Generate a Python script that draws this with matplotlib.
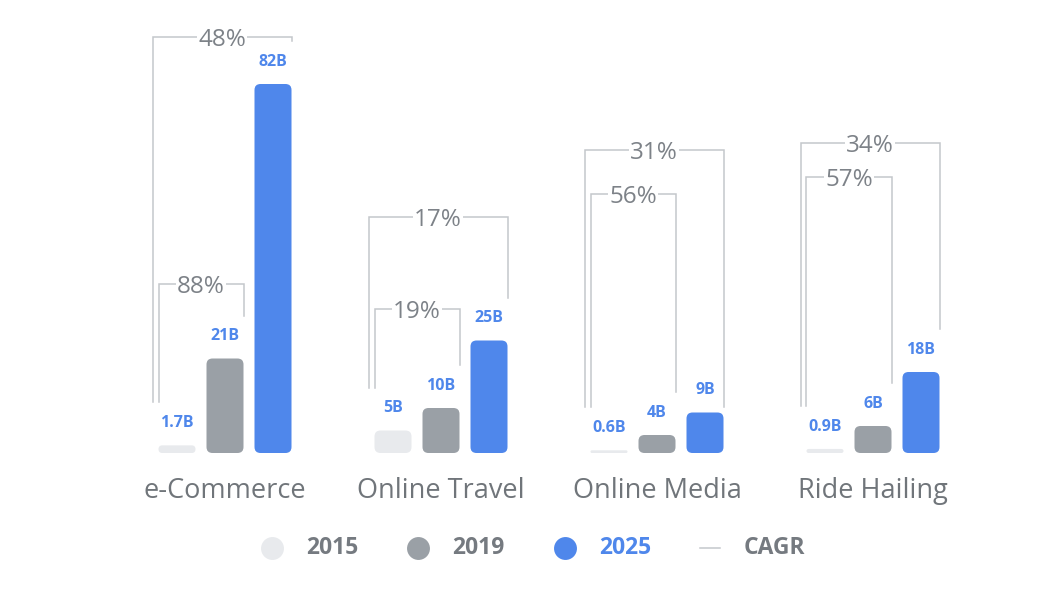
import numpy as np
import matplotlib.pyplot as plt
from matplotlib.patches import FancyBboxPatch

# ---- data ----
categories = ["e-Commerce", "Online Travel", "Online Media", "Ride Hailing"]
years = ["2015", "2019", "2025"]
v2015 = [1.7, 5, 0.6, 0.9]
v2019 = [21, 10, 4, 6]
v2025 = [82, 25, 9, 18]
labels2015 = ["1.7B", "5B", "0.6B", "0.9B"]
labels2019 = ["21B", "10B", "4B", "6B"]
labels2025 = ["82B", "25B", "9B", "18B"]
cagr_2015_2019 = ["88%", "19%", "56%", "57%"]
cagr_2015_2025 = ["48%", "17%", "31%", "34%"]

# ---- style / layout ----
plt.rcParams['font.family'] = ['Open Sans', 'DejaVu Sans']
c2015, c2019, c2025 = "#e8eaed", "#9aa0a6", "#4f87eb"
line_c = "#c4c7cb"
pct_c = "#7d8288"
cat_c = "#70757a"
leg_c = "#757a80"

W, H = 1038, 604
BASE = 453          # baseline pixel row
K = 4.5             # pixels per billion
GX0, GDX = 225, 216 # group centre px and spacing
bar_w = 37 / GDX
off = 48 / GDX
rad = 6             # corner radius px

# bracket top levels (pixel rows) - layout only
outer_top_px = [37, 217, 150, 143]
inner_top_px = [284, 309, 194, 177]
outer_right_to_base = [False, False, True, False]

fig = plt.figure(figsize=(W / 100, H / 100), dpi=100)
ax = fig.add_axes([0, 0, 1, 1])
ax.set_xlim(-GX0 / GDX, (W - GX0) / GDX)
ax.set_ylim(-(H - BASE) / K, BASE / K)
ax.axis("off")


def yv(py):
    # pixel row -> data value
    return (BASE - py) / K


def rbar(x, h, color):
    hpx = h * K
    r = min(rad, hpx / 2)
    p = FancyBboxPatch((x - bar_w / 2, 0), bar_w, h,
                       boxstyle=f"round,pad=0,rounding_size={r / GDX}",
                       mutation_aspect=GDX / K, fc=color, ec="none")
    ax.add_patch(p)


def bracket(xl, xr, top, yl, yr, txt):
    ax.plot([xl, xl, xr, xr], [yl, top, top, yr], color=line_c, lw=1.1,
            solid_joinstyle="miter", zorder=1)
    ax.text((xl + xr) / 2, top, txt, ha="center", va="center_baseline", fontsize=17.5,
            color=pct_c, zorder=2,
            bbox=dict(fc="white", ec="none", pad=1.0))


lab_off = 22 / K
end_off = 43 / K
px = 1 / GDX

for g in range(len(categories)):
    xs = [g - off, g, g + off]
    vals = [v2015[g], v2019[g], v2025[g]]
    labs = [labels2015[g], labels2019[g], labels2025[g]]
    for x, v, lab, c in zip(xs, vals, labs, [c2015, c2019, c2025]):
        rbar(x, v, c)
        ax.text(x, v + lab_off, lab, ha="center", va="center", fontsize=11.5,
                fontweight="bold", color=c2025)
    base_l = v2015[g] + end_off
    # inner bracket 2015 -> 2019
    bracket(xs[0] - bar_w / 2, xs[1] + bar_w / 2, yv(inner_top_px[g]),
            base_l, v2019[g] + end_off, cagr_2015_2019[g])
    # outer bracket 2015 -> 2025
    yr = base_l if outer_right_to_base[g] else v2025[g] + end_off
    bracket(xs[0] - bar_w / 2 - 6 * px, xs[2] + bar_w / 2, yv(outer_top_px[g]),
            base_l, yr, cagr_2015_2025[g])
    ax.text(g, yv(491), categories[g], ha="center", va="center", fontsize=19.5,
            color=cat_c)

# ---- legend ----
ly = yv(548)
leg_x = [(272 - GX0) / GDX, (418 - GX0) / GDX, (565 - GX0) / GDX]
for x, yr_, c, tc in zip(leg_x, years, [c2015, c2019, c2025], [leg_c, leg_c, c2025]):
    ax.plot([x], [ly], "o", ms=16.5, color=c, mec="none")
    ax.text(x + 34 * px, ly, yr_, ha="left", va="center", fontsize=16.5,
            fontweight="bold", color=tc)
ax.plot([(700 - GX0) / GDX, (720 - GX0) / GDX], [ly, ly], color=line_c, lw=1.1)
ax.text((744 - GX0) / GDX, ly, "CAGR", ha="left", va="center", fontsize=16.5,
        fontweight="bold", color=leg_c)

fig.savefig("out.png", dpi=100, facecolor="white")
